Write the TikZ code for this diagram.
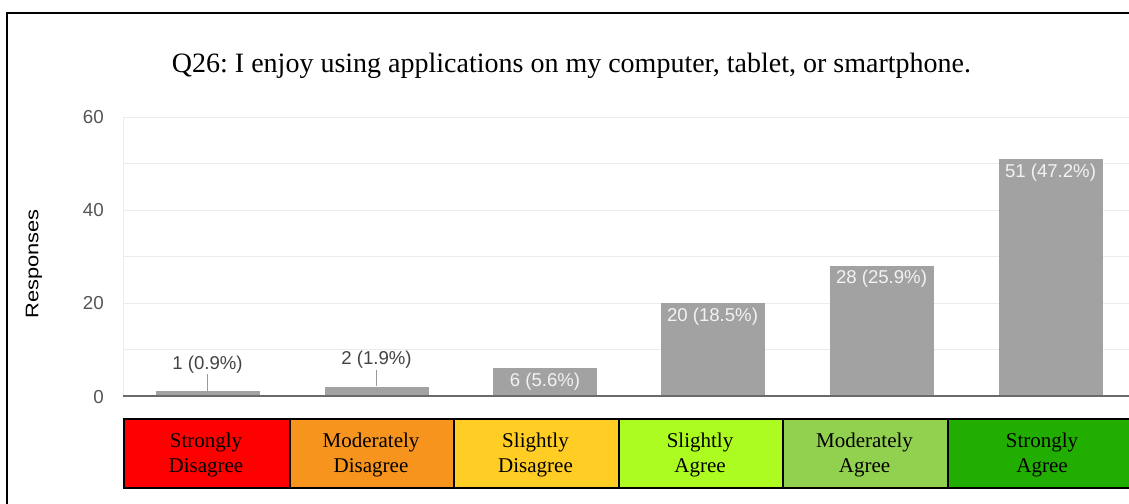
\documentclass[tikz,border=0pt]{standalone}
\usepackage{fontspec}
\setmainfont{Liberation Serif}
\newfontfamily\arialf{Liberation Sans}
\frenchspacing
\definecolor{bargrey}{HTML}{A2A2A2}
\definecolor{gridgrey}{HTML}{EBEBEB}
\definecolor{axisgrey}{HTML}{6A6A6A}
\definecolor{ticktext}{HTML}{555555}
\definecolor{valtext}{HTML}{444444}
\definecolor{inval}{HTML}{F2F2F2}
\definecolor{leadgrey}{HTML}{9A9A9A}
\definecolor{cRed}{HTML}{FF0000}
\definecolor{cOrange}{HTML}{F7941D}
\definecolor{cYellow}{HTML}{FFCD24}
\definecolor{cLime}{HTML}{ADFC21}
\definecolor{cLgreen}{HTML}{92D050}
\definecolor{cGreen}{HTML}{22AE00}
\begin{document}
\begin{tikzpicture}[x=1pt,y=-1pt,
  frame/.style={line width=2.2pt,black},
  gridl/.style={gridgrey,line width=1pt},
  axisl/.style={axisgrey,line width=1.6pt},
  barbox/.style={fill=bargrey,draw=none,minimum width=104pt,inner sep=0pt,anchor=south},
  inlabel/.style={font=\arialf\fontsize{18.6}{22}\selectfont,text=inval,inner sep=1pt},
  outlabel/.style={font=\arialf\fontsize{18.6}{22}\selectfont,text=valtext,inner sep=1pt},
  leader/.style={leadgrey,line width=1pt},
  ytick/.style={font=\arialf\fontsize{18.8}{22}\selectfont,text=ticktext,anchor=east,inner sep=0pt},
  catbox/.style={draw=black,line width=2pt,minimum height=69pt,anchor=north west,inner sep=0pt},
  cattext/.style={align=center,inner sep=0pt,font=\fontsize{21}{25}\selectfont},
]
\useasboundingbox (0,0) rectangle (1129,503);
\clip (0,0) rectangle (1129,503);
\fill[white] (0,0) rectangle (1129,503);
% frame
\draw[frame] (7,510) -- (7,13) -- (1140,13);
% title
\node[anchor=base,inner sep=0pt,font=\fontsize{28}{32}\selectfont] (title) at (571.5,72)
  {Q26: I enjoy using applications on my computer, tablet, or smartphone.};
% grid
\foreach \v in {10,20,...,60}{
  \draw[gridl] (123,{396-4.65*\v}) -- (1140,{396-4.65*\v});
}
\draw[gridl] (123,117) -- (123,396);
% y ticks
\node[ytick] (t60) at (104,117) {60};
\node[ytick] (t40) at (104,210) {40};
\node[ytick] (t20) at (104,303) {20};
\node[ytick] (t0) at (104,397) {0};
\node[rotate=90,font=\arialf\fontsize{18.2}{20}\selectfont,inner sep=0pt] (ylab) at (34,264) {\scalebox{1.2}[1]{Responses}};
% bars
\node[barbox,minimum height=4.65pt] (b0) at (207.5,396) {};
\node[barbox,minimum height=9.3pt] (b1) at (376.5,396) {};
\node[barbox,minimum height=27.9pt] (b2) at (545,396) {};
\node[barbox,minimum height=93pt] (b3) at (712.5,396) {};
\node[barbox,minimum height=130.2pt] (b4) at (881.5,396) {};
\node[barbox,minimum height=237.15pt] (b5) at (1050.5,396) {};
% axis
\draw[axisl] (123,396) -- (1140,396);
% value labels
\node[outlabel] (l0) at (207.5,364.5) {1 (0.9\%)};
\node[outlabel] (l1) at (376.5,360) {2 (1.9\%)};
\draw[leader] (l0.south) -- (b0.north);
\draw[leader] (l1.south) -- (b1.north);
\node[inlabel] (l2) at (545,382) {6 (5.6\%)};
\node[inlabel] (l3) at (712.5,317) {20 (18.5\%)};
\node[inlabel] (l4) at (881.5,279) {28 (25.9\%)};
\node[inlabel] (l5) at (1050.5,173) {51 (47.2\%)};
% category boxes
\node[catbox,fill=cRed,minimum width=165.3pt] (c0) at (123.3,418.3) {};
\node[catbox,fill=cOrange,minimum width=164.6pt] (c1) at (288.6,418.3) {};
\node[catbox,fill=cYellow,minimum width=164.7pt] (c2) at (453.2,418.3) {};
\node[catbox,fill=cLime,minimum width=164.4pt] (c3) at (617.9,418.3) {};
\node[catbox,fill=cLgreen,minimum width=164.7pt] (c4) at (782.3,418.3) {};
\node[catbox,fill=cGreen,minimum width=200pt] (c5) at (947,418.3) {};
\node[cattext] (c0t) at (206,455) {Strongly\\Disagree};
\node[cattext] (c1t) at (371,455) {Moderately\\Disagree};
\node[cattext] (c2t) at (535.5,455) {Slightly\\Disagree};
\node[cattext] (c3t) at (700,455) {Slightly\\Agree};
\node[cattext] (c4t) at (864.5,455) {Moderately\\Agree};
\node[cattext] (c5t) at (1042,455) {Strongly\\Agree};
\end{tikzpicture}
\end{document}
